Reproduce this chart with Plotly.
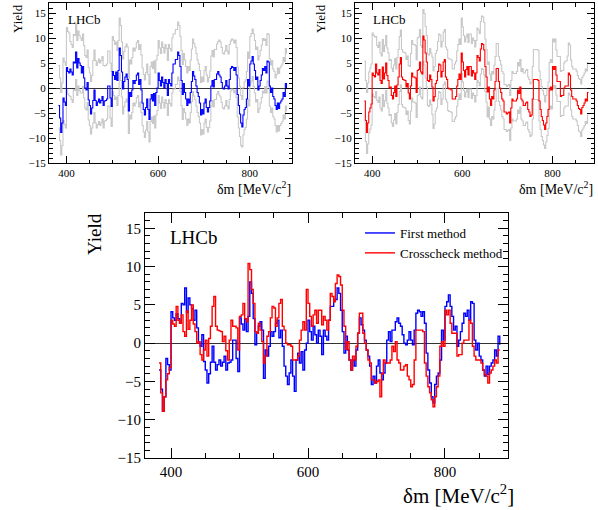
import numpy as np
import plotly.graph_objects as go

# bin centres (MeV/c^2)
mass = np.arange(382.5, 880.01, 2.5)

first_method = [
    -3.5, -6.0, -8.9, -7.0, -2.0, -2.8, -3.5, 4.1, 3.3, 3.0,
    3.8, 3.2, 2.6, 5.2, 5.0, 7.2, 4.0, 5.9, 5.0, 4.5,
    3.0, 4.3, 2.0, 0.0, -0.4, 1.1, -2.4, -3.5, -5.2, -4.0,
    -2.5, -0.4, -2.5, -3.5, -2.8, -2.2, -3.0, -2.5, -1.7, -3.5,
    -2.6, -2.5, -2.2, 0.4, 0.4, -2.0, -3.7, 3.3, 2.5, 1.7,
    3.2, 1.5, 3.5, 8.0, 6.5, 3.2, -0.2, 1.3, 2.2, 2.8,
    1.7, -4.6, -0.9, -1.7, -0.4, 1.5, 0.9, 1.5, 2.6, 3.0,
    0.7, 1.7, -0.4, -3.0, -4.3, -5.4, -3.9, -2.2, -4.3, -6.3,
    -2.2, -1.3, -2.6, -1.1, -3.5, -0.9, 0.0, 3.0, 1.5, 0.4,
    2.2, 1.1, 0.0, 1.7, 0.9, -1.5, 1.7, 0.9, 0.4, 3.0,
    4.8, 4.8, 5.7, 5.7, 7.2, 6.5, 4.3, 1.5, -1.3, 0.9,
    -0.9, -2.2, -3.5, -2.2, -3.0, -0.9, 1.3, 3.3, 2.4, 1.7,
    0.4, -0.9, -1.7, -3.0, -5.4, -4.3, -5.2, -3.0, -2.2, -3.9,
    -4.8, -3.9, -2.6, 0.4, 1.5, 0.2, 1.7, 1.7, 2.8, 3.3,
    2.6, 2.2, 1.1, 0.0, -0.2, 0.4, 1.5, 0.4, -0.2, 1.7,
    3.9, 4.3, 4.1, 3.5, 4.1, 2.6, -1.3, -3.5, -5.2, -7.0,
    -7.8, -5.4, -4.3, -3.9, -2.2, 1.7, 0.4, 4.8, 5.4, 6.3,
    4.8, 3.5, 1.7, 2.2, -0.4, 0.4, 1.5, 2.6, 3.9, 3.5,
    4.3, 3.0, 5.4, 5.2, 0.4, -0.9, 0.0, -1.7, -2.2, -3.5,
    -4.3, -3.0, -4.1, -3.0, -2.6, -2.2, -0.9, -1.7, 0.9, -0.2,
]

crosscheck_method = [
    -2.6, -6.5, -8.9, -7.0, -4.8, -4.0, -3.2, 3.0, 2.5, 2.2,
    4.8, 3.0, 2.6, 3.7, 1.5, 0.9, 4.2, 1.8, 3.0, 5.0,
    2.5, 1.5, 0.0, 0.2, -1.5, -2.2, -0.9, 0.4, -1.7, 0.6,
    2.2, 4.8, 6.1, 2.2, 1.7, 1.6, 1.5, 0.2, 0.9, -1.0,
    -2.2, 0.4, 3.0, 2.2, 2.2, 2.0, -0.9, 3.5, 3.7, 5.2,
    3.2, 2.8, 10.4, 9.6, 7.0, 5.2, 1.5, 1.3, 2.6, 1.7,
    0.2, -2.6, -1.7, 0.9, 1.5, 3.3, 4.8, 4.6, 2.2, 3.3,
    5.2, 5.7, 2.2, 1.7, 0.0, -0.2, -0.2, -0.4, -2.2, -2.2,
    -2.2, -1.7, 0.4, 1.7, 2.8, 1.7, 7.0, 5.2, 3.5, 2.2,
    3.7, 4.3, 2.6, 4.3, 4.3, 2.4, 3.5, 3.0, 1.7, 3.0,
    6.5, 6.1, 5.4, 7.8, 8.9, 8.7, 7.6, 4.3, 2.2, -0.8,
    0.2, -2.2, -3.5, -1.7, -2.2, -0.4, 1.3, 3.9, 3.9, 1.3,
    0.0, -0.9, -2.2, -2.6, -4.8, -4.8, -5.2, -5.0, -4.8, -7.0,
    -4.0, -2.2, -2.6, -2.6, -2.6, -2.2, -0.4, -1.1, 0.2, -2.2,
    -2.6, -3.5, -3.5, -3.0, -2.8, -4.3, -4.8, -5.7, -5.4, -2.2,
    1.7, 1.7, 1.7, 1.7, 1.5, -2.6, -4.3, -5.7, -6.5, -7.4,
    -8.3, -7.0, -5.7, -4.3, -0.4, 0.2, -0.4, 4.3, 3.7, 4.3,
    2.6, 1.3, 1.3, 1.3, -1.7, -1.5, -1.5, 0.0, 0.4, 0.4,
    0.4, 3.0, 2.6, -0.4, -1.7, -2.2, -2.2, -2.2, -2.6, -3.5,
    -4.1, -4.3, -5.2, -3.9, -3.5, -3.0, -2.2, -2.6, -0.9, -0.9,
]

# uncertainty band half-widths (upper / lower), one value per 25 MeV block (20 blocks)
first_err_up = [8.0, 5.5, 6.5, 8.0, 7.0, 6.0, 6.5, 7.0, 6.5, 7.0,
                6.0, 6.5, 6.5, 6.0, 7.0, 5.5, 5.5, 6.0, 5.5, 7.0]
first_err_lo = [4.5, 5.5, 4.0, 4.5, 4.0, 5.0, 4.5, 4.5, 4.5, 4.0,
                5.0, 4.0, 4.0, 4.0, 4.0, 4.5, 4.0, 4.5, 4.0, 4.5]
cross_err_up = [8.0, 5.5, 5.5, 5.5, 6.5, 5.3, 6.0, 6.0, 7.0, 6.5,
                5.5, 5.0, 5.5, 5.5, 6.5, 6.0, 5.5, 5.0, 6.0, 6.0]
cross_err_lo = [4.2, 5.5, 5.5, 5.5, 5.0, 5.0, 5.5, 4.5, 4.0, 4.5,
                5.0, 4.0, 3.5, 4.0, 4.0, 4.0, 3.8, 4.0, 4.0, 4.5]

x_ticks = [400, 600, 800]
y_ticks = [-15, -10, -5, 0, 5, 10, 15]

FONT = "Liberation Serif"
BLUE = "#0000ff"
RED = "#ff0000"
GRAY = "#c8c8c8"


def per_bin(blocks):
    return np.repeat(np.array(blocks, dtype=float), 10)


fm = np.array(first_method)
cm = np.array(crosscheck_method)

fig = go.Figure()


def line(y, color, width, xa, ya, name=None, legend=False):
    return go.Scatter(x=mass, y=y, mode="lines", name=name, showlegend=legend,
                      line=dict(color=color, width=width, shape="hv"), xaxis=xa, yaxis=ya)


# top-left panel
fig.add_trace(line(fm + per_bin(first_err_up), GRAY, 1.1, "x", "y"))
fig.add_trace(line(fm - per_bin(first_err_lo), GRAY, 1.1, "x", "y"))
fig.add_trace(line(fm, BLUE, 1.1, "x", "y"))
# top-right panel
fig.add_trace(line(cm + per_bin(cross_err_up), GRAY, 1.1, "x2", "y2"))
fig.add_trace(line(cm - per_bin(cross_err_lo), GRAY, 1.1, "x2", "y2"))
fig.add_trace(line(cm, RED, 1.1, "x2", "y2"))
# bottom panel
fig.add_trace(line(fm, BLUE, 1.4, "x3", "y3", "First method", True))
fig.add_trace(line(cm, RED, 1.4, "x3", "y3", "Crosscheck method", True))


def xax(domain, anchor, fsize, tlen):
    return dict(domain=domain, anchor=anchor, range=[362, 892], automargin=False,
                tickvals=x_ticks, ticks="inside", ticklen=tlen, tickwidth=1, tickcolor="black",
                minor=dict(ticks="inside", dtick=50, tick0=0, ticklen=tlen / 2, tickcolor="black"),
                showline=True, linecolor="black", linewidth=1, mirror="allticks",
                showgrid=False, zeroline=False,
                tickfont=dict(family=FONT, size=fsize, color="black"))


def yax(domain, anchor, fsize, tlen):
    return dict(domain=domain, anchor=anchor, range=[-15, 17], automargin=False,
                tickvals=y_ticks, ticks="inside", ticklen=tlen, tickwidth=1, tickcolor="black",
                minor=dict(ticks="inside", dtick=1, tick0=0, ticklen=tlen / 2, tickcolor="black"),
                showline=True, linecolor="black", linewidth=1, mirror="allticks",
                showgrid=False, zeroline=True, zerolinecolor="#333333", zerolinewidth=1.3,
                tickfont=dict(family=FONT, size=fsize, color="black"))


W, H = 598, 510
fig.update_layout(
    width=W, height=H,
    margin=dict(l=0, r=0, t=0, b=0, autoexpand=False),
    paper_bgcolor="white", plot_bgcolor="white",
    xaxis=xax([49 / W, 292 / W], "y", 11, 7),
    yaxis=yax([1 - 163 / H, 1 - 3 / H], "x", 11, 7),
    xaxis2=xax([355 / W, 594 / W], "y2", 11, 7),
    yaxis2=yax([1 - 163 / H, 1 - 3 / H], "x2", 11, 7),
    xaxis3=xax([145 / W, 508 / W], "y3", 15, 10),
    yaxis3=yax([1 - 458 / H, 1 - 213 / H], "x3", 15, 10),
    legend=dict(x=360 / W, y=1 - 218 / H, xanchor="left", yanchor="top",
                font=dict(family=FONT, size=13, color="black"),
                bgcolor="rgba(0,0,0,0)", tracegroupgap=0, itemwidth=30),
    font=dict(family=FONT, color="black"),
)

ann = []
# LHCb labels
ann.append(dict(text="LHCb", x=66 / W, y=1 - 20 / H, xref="paper", yref="paper",
                xanchor="left", yanchor="middle", showarrow=False, font=dict(family=FONT, size=13)))
ann.append(dict(text="LHCb", x=371 / W, y=1 - 20 / H, xref="paper", yref="paper",
                xanchor="left", yanchor="middle", showarrow=False, font=dict(family=FONT, size=13)))
ann.append(dict(text="LHCb", x=168 / W, y=1 - 237 / H, xref="paper", yref="paper",
                xanchor="left", yanchor="middle", showarrow=False, font=dict(family=FONT, size=19)))
# y titles
for xp, yp, fs in [(18, 19, 13), (321, 19, 13), (95, 234, 19)]:
    ann.append(dict(text="Yield", x=xp / W, y=1 - yp / H, xref="paper", yref="paper",
                    xanchor="center", yanchor="middle", textangle=-90, showarrow=False,
                    font=dict(family=FONT, size=fs)))
# x titles
for xp, yp, fs in [(293, 188, 14), (595, 188, 14), (516, 494, 21)]:
    ann.append(dict(text="δm [MeV/c<sup>2</sup>]", x=xp / W, y=1 - yp / H, xref="paper", yref="paper",
                    xanchor="right", yanchor="middle", showarrow=False,
                    font=dict(family=FONT, size=fs)))
fig.update_layout(annotations=ann)

fig.write_html(
    "out.html",
    config={"displayModeBar": False},
    post_script="document.body.style.margin='0';document.body.style.padding='0';",
)
